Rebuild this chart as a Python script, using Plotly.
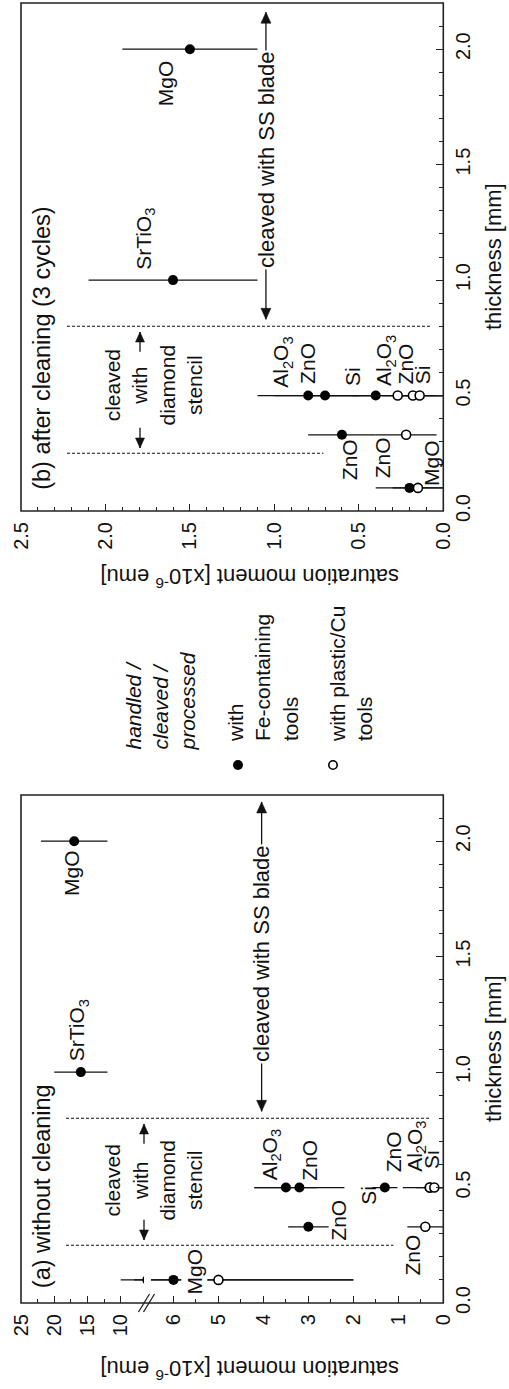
import plotly.graph_objects as go

W, H = 509, 1389
FONT = "Liberation Sans, Arial, sans-serif"
INK = "#111111"
FRAME = "#222222"

# ---------------- data ----------------
# (b) after cleaning (3 cycles) -- handled with Fe-containing tools
b_fe_material = ["MgO", "ZnO", "Al2O3", "ZnO", "Si", "SrTiO3", "MgO"]
b_fe_thickness = [0.1, 0.33, 0.5, 0.5, 0.5, 1.0, 2.0]
b_fe_moment = [0.2, 0.6, 0.8, 0.7, 0.4, 1.6, 1.5]
b_fe_err = [0.2, 0.2, 0.3, 0.3, 0.4, 0.5, 0.4]

# (b) -- handled with plastic/Cu tools
b_pl_material = ["MgO", "ZnO", "Al2O3", "ZnO", "Si"]
b_pl_thickness = [0.1, 0.33, 0.5, 0.5, 0.5]
b_pl_moment = [0.15, 0.22, 0.27, 0.18, 0.14]
b_pl_err = [0.15, 0.18, 0.27, 0.18, 0.14]

# (a) without cleaning -- Fe-containing tools
a_fe_material = ["MgO", "ZnO", "Al2O3", "ZnO", "Si", "SrTiO3", "MgO"]
a_fe_thickness = [0.1, 0.33, 0.5, 0.5, 0.5, 1.0, 2.0]
a_fe_moment = [6.0, 3.0, 3.5, 3.2, 1.3, 16.0, 17.0]
a_fe_err = [4.0, 0.45, 0.7, 1.0, 0.28, 4.0, 5.0]

# (a) -- plastic/Cu tools
a_pl_material = ["MgO", "ZnO", "ZnO", "Al2O3", "Si"]
a_pl_thickness = [0.1, 0.33, 0.5, 0.5, 0.5]
a_pl_moment = [5.0, 0.4, 0.3, 0.3, 0.2]
a_pl_err_plus = [3.0, 0.4, 0.6, 0.3, 0.2]
a_pl_err_minus = [3.0, 0.4, 0.3, 0.3, 0.2]

# material labels: (text, moment, thickness)
b_labels = [
    ("MgO", 1.647, 1.853), ("SrTiO<sub>3</sub>", 1.77, 1.18),
    ("Al<sub>2</sub>O<sub>3</sub>", 0.955, 0.646), ("ZnO", 0.803, 0.64),
    ("Si", 0.541, 0.584), ("Al<sub>2</sub>O<sub>3</sub>", 0.344, 0.65),
    ("ZnO", 0.225, 0.636), ("Si", 0.118, 0.589),
    ("ZnO", 0.551, 0.221), ("ZnO", 0.355, 0.23), ("MgO", 0.067, 0.208),
]
a_labels_low = [
    ("Al<sub>2</sub>O<sub>3</sub>", 3.83, 0.64), ("ZnO", 2.98, 0.617),
    ("ZnO", 2.34, 0.357), ("Si", 1.67, 0.465), ("ZnO", 1.12, 0.657),
    ("Al<sub>2</sub>O<sub>3</sub>", 0.61, 0.68), ("Si", 0.25, 0.62),
    ("ZnO", 0.68, 0.209),
]
a_labels_high = [("SrTiO<sub>3</sub>", 16.47, 1.18), ("MgO", 17.4, 1.86)]
a_label_masked = ("MgO", 5.53, 0.135)

# axis ticks
b_moment_ticks = [0.0, 0.5, 1.0, 1.5, 2.0, 2.5]
a_low_ticks = [0, 1, 2, 3, 4, 5, 6]
a_low_minor = [0.5, 1.5, 2.5, 3.5, 4.5, 5.5]
a_high_ticks = [10, 15, 20, 25]
a_high_minor = [12.5, 17.5, 22.5]


# ---------------- geometry ----------------
def px(x):
    return x / W


def py(y):
    return 1 - y / H


PL, PR = 21, 443.3
B_TOP, B_BOT = 3, 511
A_TOP, A_BOT = 795, 1303
BRK_L, BRK_R = 144, 151

dom_xb = [px(PL), px(PR)]
dom_x2 = [px(BRK_R), px(PR)]
dom_x3 = [px(PL), px(BRK_L)]
rng_xb = [2.5, 0]
rng_x2 = [6.5, 0]
rng_x3 = [25, 6.5]


def to_paper(v, dom, rng):
    f = (v - rng[0]) / (rng[1] - rng[0])
    return dom[0] + f * (dom[1] - dom[0])


def errs(plus, minus=None):
    d = dict(type="data", array=plus, visible=True, width=0, thickness=1.2, color=INK)
    if minus is not None:
        d["arrayminus"] = minus
        d["symmetric"] = False
    return d


filled = dict(symbol="circle", size=10, color="#000000", line=dict(width=0))
hollow = dict(symbol="circle", size=9, color="#ffffff", line=dict(width=1.6, color="#000000"))

fig = go.Figure()

# panel (b)
fig.add_trace(go.Scatter(x=b_fe_moment, y=b_fe_thickness, mode="markers", marker=filled,
                         error_x=errs(b_fe_err), xaxis="x", yaxis="y", text=b_fe_material,
                         showlegend=False))
fig.add_trace(go.Scatter(x=b_pl_moment, y=b_pl_thickness, mode="markers", marker=hollow,
                         error_x=errs(b_pl_err), xaxis="x", yaxis="y", text=b_pl_material,
                         showlegend=False))

# panel (a): same data on both segments of the broken moment axis
for xa in ("x2", "x3"):
    fig.add_trace(go.Scatter(x=a_fe_moment, y=a_fe_thickness, mode="markers", marker=filled,
                             error_x=errs(a_fe_err), xaxis=xa, yaxis="y2", text=a_fe_material,
                             showlegend=False))
    fig.add_trace(go.Scatter(x=a_pl_moment, y=a_pl_thickness, mode="markers", marker=hollow,
                             error_x=errs(a_pl_err_plus, a_pl_err_minus), xaxis=xa, yaxis="y2",
                             text=a_pl_material, showlegend=False))

tickfont = dict(size=20, color=INK, family=FONT)
base = dict(ticks="inside", ticklen=7, tickwidth=1.2, tickcolor=FRAME, showgrid=False,
            zeroline=False, showline=False, tickangle=-90, tickfont=tickfont,
            automargin=False, fixedrange=True)
minor_base = dict(ticks="inside", ticklen=4, tickwidth=1, tickcolor=FRAME, showgrid=False)

fig.update_layout(
    width=W, height=H, margin=dict(l=0, r=0, t=0, b=0), template="none",
    paper_bgcolor="white", plot_bgcolor="white", showlegend=False,
    font=dict(family=FONT, color=INK),
    xaxis=dict(base, domain=dom_xb, range=rng_xb, anchor="y", tickmode="array",
               tickvals=b_moment_ticks, ticktext=[f"{v:.1f}" for v in b_moment_ticks],
               minor=dict(minor_base, dtick=0.1, tick0=0), ticklabelstandoff=6),
    yaxis=dict(base, domain=[py(B_BOT), py(B_TOP)], range=[0, 2.2], anchor="x", side="right",
               dtick=0.5, tick0=0, tickformat=".1f", minor=dict(minor_base, dtick=0.1, tick0=0),
               ticklabelstandoff=6),
    xaxis2=dict(base, domain=dom_x2, range=rng_x2, anchor="y2", tickmode="array",
                tickvals=a_low_ticks, ticktext=[str(v) for v in a_low_ticks],
                minor=dict(minor_base, tickmode="array", tickvals=a_low_minor),
                ticklabelstandoff=6),
    xaxis3=dict(base, domain=dom_x3, range=rng_x3, anchor="y2", tickmode="array",
                tickvals=a_high_ticks, ticktext=[str(v) for v in a_high_ticks],
                minor=dict(minor_base, tickmode="array", tickvals=a_high_minor),
                ticklabelstandoff=6),
    yaxis2=dict(base, domain=[py(A_BOT), py(A_TOP)], range=[0, 2.2], anchor="x2", side="right",
                dtick=0.5, tick0=0, tickformat=".1f", minor=dict(minor_base, dtick=0.1, tick0=0),
                ticklabelstandoff=6),
)

shapes = []
# frames
for top, bot in ((B_TOP, B_BOT), (A_TOP, A_BOT)):
    shapes.append(dict(type="rect", xref="paper", yref="paper", x0=px(PL), x1=px(PR),
                       y0=py(bot), y1=py(top), line=dict(color=FRAME, width=1.6)))
# axis break marks
for dx in (0, 5):
    shapes.append(dict(type="line", xref="paper", yref="paper",
                       x0=px(138.5 + dx), y0=py(A_BOT + 9), x1=px(149.5 + dx), y1=py(A_BOT - 9),
                       line=dict(color=FRAME, width=1.3)))
# dashed boundaries between the cleaving methods
dash = dict(color=INK, width=1.1, dash="3px,2px")
for thick, end in ((0.25, 0.71), (0.8, 0.07)):
    shapes.append(dict(type="line", xref="paper", yref="y", x0=px(67),
                       x1=to_paper(end, dom_xb, rng_xb), y0=thick, y1=thick, line=dash))
for thick, end in ((0.25, 1.11), (0.8, 0.3)):
    shapes.append(dict(type="line", xref="paper", yref="y2", x0=px(66),
                       x1=to_paper(end, dom_x2, rng_x2), y0=thick, y1=thick, line=dash))


def arrow(xp, yref, tail, tip, head=11, half=5):
    """Vertical arrow at paper x `xp`, from thickness `tail` to `tip`."""
    up = 1 if tip > tail else -1
    out = [dict(type="line", xref="paper", yref=yref, x0=xp, x1=xp, y0=tail, y1=tip,
                line=dict(color=INK, width=1.3))]
    out.append(dict(type="path", xref="paper", yref=yref, xsizemode="pixel",
                    ysizemode="pixel", xanchor=xp, yanchor=tip,
                    path=f"M 0,0 L {-half},{-up * head} L {half},{-up * head} Z",
                    fillcolor=INK, line=dict(color=INK, width=0.5)))
    return out


# "cleaved with SS blade" double arrows
SS = ((to_paper(1.05, dom_xb, rng_xb), "y", 1.52, 0.83, 2.16),
      (to_paper(4.04, dom_x2, rng_x2), "y2", 1.51, 0.83, 2.17))
for xp, yref, mid, lo, hi in SS:
    shapes += arrow(xp, yref, mid, lo)
    shapes += arrow(xp, yref, mid, hi)

# "cleaved with diamond stencil" short arrows
DIA = ((153.3, 140, "y", 0.545), (154, 144, "y2", 0.53))
for xc, xa, yref, yc in DIA:
    shapes += arrow(px(xa), yref, 0.69, 0.775, head=10, half=4.5)
    shapes += arrow(px(xa), yref, 0.36, 0.273, head=10, half=4.5)

# legend symbols
shapes.append(dict(type="circle", xref="paper", yref="paper", xsizemode="pixel",
                   ysizemode="pixel", xanchor=px(238), yanchor=py(765), x0=-5, x1=5, y0=-5,
                   y1=5, fillcolor="#000", line=dict(width=0)))
shapes.append(dict(type="circle", xref="paper", yref="paper", xsizemode="pixel",
                   ysizemode="pixel", xanchor=px(333), yanchor=py(765), x0=-4.2, x1=4.2,
                   y0=-4.2, y1=4.2, fillcolor="#fff", line=dict(width=1.6, color="#000")))
fig.update_layout(shapes=shapes)

ann = []


def text(t, x, y, xref="paper", yref="paper", size=21, angle=-90, xanchor="center",
         yanchor="middle", align="center", bg=None):
    d = dict(text=t, x=x, y=y, xref=xref, yref=yref, showarrow=False, textangle=angle,
             xanchor=xanchor, yanchor=yanchor, align=align,
             font=dict(size=size, family=FONT, color=INK), borderpad=0)
    if bg:
        d["bgcolor"] = bg
        d["borderpad"] = 1
    return d


# material labels
for t, m, th in b_labels:
    ann.append(text(t, m, th, "x", "y"))
for t, m, th in a_labels_low:
    ann.append(text(t, m, th, "x2", "y2"))
for t, m, th in a_labels_high:
    ann.append(text(t, m, th, "x3", "y2"))
ann.append(text(a_label_masked[0], a_label_masked[1], a_label_masked[2], "x2", "y2", bg="white"))

for xp, yref, mid, lo, hi in SS:
    ann.append(text("cleaved with SS blade", xp, mid, "paper", yref, size=22, bg="white"))

for xc, xa, yref, yc in DIA:
    ann.append(text("cleaved<br>with<br>diamond<br>stencil", px(xc), yc, "paper", yref, size=21))

# panel titles
ann.append(text("(b) after cleaning (3 cycles)", px(42), 0.085, "paper", "y", size=23.5,
                yanchor="bottom"))
ann.append(text("(a) without cleaning", px(42), 0.06, "paper", "y2", size=23.5,
                yanchor="bottom"))

# axis titles
for top, bot, ylab in ((B_TOP, B_BOT, 578), (A_TOP, A_BOT, 1370)):
    ann.append(text("thickness [mm]", px(493), py((top + bot) / 2), size=22))
    ann.append(text("saturation moment [x10<sup>-6</sup> emu]", px(250), py(ylab), size=22,
                    angle=180))

# legend text
ann.append(text("<i>handled /</i><br><i>cleaved /</i><br><i>processed</i>", px(160), py(752),
                size=21, yanchor="bottom", align="left"))
ann.append(text("with<br>Fe-containing<br>tools", px(263), py(743), size=21,
                yanchor="bottom", align="left"))
ann.append(text("with plastic/Cu<br>tools", px(351), py(743), size=21,
                yanchor="bottom", align="left"))

fig.update_layout(annotations=ann)
fig.write_html("out.html")
